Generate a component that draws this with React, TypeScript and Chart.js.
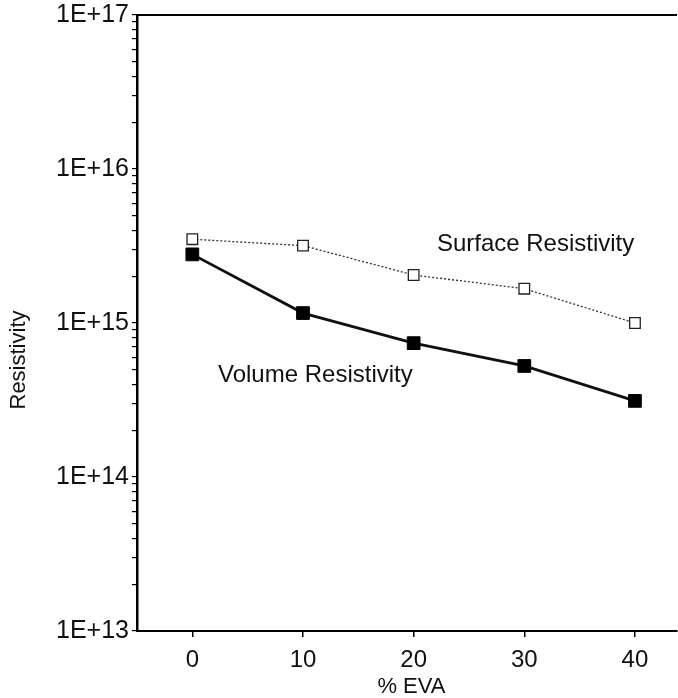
import React, { useEffect, useRef } from "react";
import { Chart, registerables } from "chart.js";

Chart.register(...registerables);

const evaPercent = [0, 10, 20, 30, 40];
const surfaceResistivity = [3.5e15, 3.18e15, 2.05e15, 1.67e15, 1.0e15];
const volumeResistivity = [2.79e15, 1.16e15, 7.4e14, 5.26e14, 3.12e14];
const xTickValues = [0, 10, 20, 30, 40];
const yDecades = [13, 14, 15, 16, 17];
const xTitle = "% EVA";
const yTitle = "Resistivity";
const surfaceLabel = "Surface Resistivity";
const volumeLabel = "Volume Resistivity";

const FONT = "'Liberation Sans', Arial, Helvetica, sans-serif";

export default function App() {
  const ref = useRef<HTMLCanvasElement | null>(null);

  useEffect(() => {
    if (!ref.current) return;

    const annotate = {
      id: "annotate",
      afterDraw(chart: any) {
        const ctx = chart.ctx;
        const a = chart.chartArea;
        const xs = chart.scales.x;
        const ys = chart.scales.y;
        ctx.save();
        // top frame line
        ctx.strokeStyle = "#000";
        ctx.lineWidth = 2;
        ctx.beginPath();
        ctx.moveTo(a.left, a.top);
        ctx.lineTo(a.right, a.top);
        ctx.stroke();
        ctx.fillStyle = "#111";
        ctx.font = `24px ${FONT}`;
        ctx.textBaseline = "middle";
        ctx.textAlign = "left";
        ctx.fillText(surfaceLabel, xs.getPixelForValue(22.1), ys.getPixelForValue(3.26e15));
        ctx.fillText(volumeLabel, xs.getPixelForValue(2.32), ys.getPixelForValue(4.6e14));
        // axis titles
        ctx.font = `22px ${FONT}`;
        ctx.textAlign = "center";
        ctx.fillText(xTitle, xs.getPixelForValue(19.8), 687);
        ctx.translate(19, 360);
        ctx.rotate(-Math.PI / 2);
        ctx.fillText(yTitle, 0, 0);
        ctx.restore();
      },
    };

    const chart = new Chart(ref.current, {
      type: "line",
      data: {
        datasets: [
          {
            label: surfaceLabel,
            data: evaPercent.map((x, i) => ({ x, y: surfaceResistivity[i] })),
            borderColor: "#333",
            borderWidth: 1.3,
            borderDash: [2, 2],
            pointStyle: "rect",
            pointRadius: 7.5,
            pointBackgroundColor: "#fff",
            pointBorderColor: "#222",
            pointBorderWidth: 1.3,
            fill: false,
            tension: 0,
          },
          {
            label: volumeLabel,
            data: evaPercent.map((x, i) => ({ x, y: volumeResistivity[i] })),
            borderColor: "#111",
            borderWidth: 2.8,
            pointStyle: "rect",
            pointRadius: 9,
            pointBackgroundColor: "#000",
            pointBorderColor: "#000",
            pointBorderWidth: 1,
            fill: false,
            tension: 0,
          },
        ],
      },
      options: {
        animation: false,
        responsive: false,
        maintainAspectRatio: false,
        layout: { autoPadding: false, padding: { left: 0, right: 1, top: 15, bottom: 0 } },
        plugins: {
          legend: { display: false },
          tooltip: { enabled: false },
          title: { display: false },
        },
        scales: {
          x: {
            type: "linear",
            min: -5,
            max: 43.8,
            afterBuildTicks(scale: any) {
              scale.ticks = xTickValues.map((v) => ({ value: v }));
            },
            afterFit(scale: any) {
              scale.height = 67;
              scale.paddingLeft = 0;
              scale.paddingRight = 0;
            },
            border: { display: true, color: "#000", width: 2 },
            grid: {
              display: true,
              drawOnChartArea: false,
              drawTicks: true,
              tickLength: 6,
              color: "#000",
              lineWidth: 1.5,
            },
            ticks: {
              color: "#111",
              font: { family: FONT, size: 24 },
              padding: 9,
              maxRotation: 0,
              autoSkip: false,
            },
          },
          y: {
            type: "logarithmic",
            min: 1e13,
            max: 1e17,
            afterBuildTicks(scale: any) {
              const t: any[] = [];
              for (let d = yDecades[0]; d < yDecades[yDecades.length - 1]; d++) {
                for (let m = 1; m <= 9; m++) t.push({ value: m * Math.pow(10, d) });
              }
              t.push({ value: Math.pow(10, yDecades[yDecades.length - 1]) });
              scale.ticks = t;
            },
            afterFit(scale: any) {
              scale.width = 137;
              scale.paddingTop = 0;
              scale.paddingBottom = 0;
            },
            border: { display: true, color: "#000", width: 2.5 },
            grid: {
              display: true,
              drawOnChartArea: false,
              drawTicks: true,
              tickLength: 5,
              color: "#000",
              lineWidth: 1.2,
            },
            ticks: {
              color: "#111",
              font: { family: FONT, size: 25 },
              padding: 3,
              autoSkip: false,
              callback(value: any) {
                const v = Number(value);
                const e = Math.round(Math.log10(v));
                if (Math.abs(v - Math.pow(10, e)) / v < 1e-6) return `1E+${e}`;
                return "";
              },
            },
          },
        },
      },
      plugins: [annotate],
    } as any);

    return () => chart.destroy();
  }, []);

  return (
    <div style={{ position: "absolute", left: 0, top: 0, width: 678, height: 698, background: "#fff" }}>
      <canvas ref={ref} width={678} height={698} style={{ display: "block" }} />
    </div>
  );
}
